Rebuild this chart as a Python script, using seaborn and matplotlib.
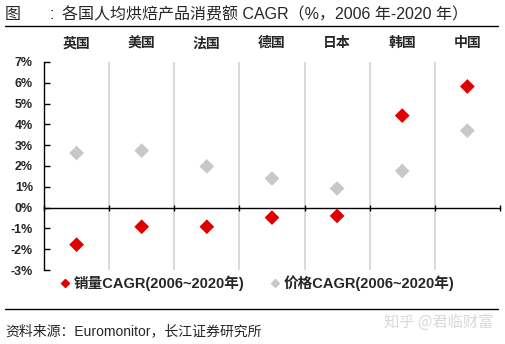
import matplotlib
matplotlib.use("Agg")
import matplotlib.pyplot as plt
import seaborn as sns
import pandas as pd
from matplotlib.lines import Line2D

countries = ["英国", "美国", "法国", "德国", "日本", "韩国", "中国"]
volume_cagr = [-1.78, -0.92, -0.92, -0.48, -0.40, 4.42, 5.82]
price_cagr = [2.62, 2.74, 1.98, 1.40, 0.92, 1.76, 3.70]
series_names = ["销量CAGR(2006~2020年)", "价格CAGR(2006~2020年)"]
yticks = [-3, -2, -1, 0, 1, 2, 3, 4, 5, 6, 7]

sns.set_theme(style="white")
plt.rcParams["font.family"] = ["Liberation Sans", "Noto Sans CJK SC", "DejaVu Sans"]
cjk = ["Noto Sans CJK SC", "DejaVu Sans"]
mixed = ["Liberation Sans", "Noto Sans CJK SC", "DejaVu Sans"]

df = pd.DataFrame({
    "country": countries * 2,
    "value": volume_cagr + price_cagr,
    "series": [series_names[0]] * len(countries) + [series_names[1]] * len(countries),
})

fig = plt.figure(figsize=(5.06, 3.44), dpi=100)
ax = fig.add_axes([0.087, 0.215, 0.901, 0.605])

red = "#e00000"
gray = "#c8c8c8"
palette = {series_names[0]: red, series_names[1]: gray}

for i in range(1, len(countries)):
    ax.axvline(i - 0.5, color="#d0d0d0", lw=1.1, zorder=0)

sns.stripplot(data=df, x="country", y="value", hue="series", order=countries,
              palette=palette, jitter=False, dodge=False, marker="D", size=7.5,
              linewidth=0, ax=ax, legend=False, zorder=3)

ax.set_xlim(-0.5, len(countries) - 0.5)
ax.set_ylim(-3, 7)
ax.set_yticks(yticks)
ax.set_yticklabels([f"{v}%" for v in yticks], fontweight="bold", fontsize=9)
ax.set_xlabel("")
ax.set_ylabel("")

for s in ["top", "right"]:
    ax.spines[s].set_visible(False)
ax.spines["left"].set_color("black")
ax.spines["left"].set_linewidth(1.0)
ax.spines["bottom"].set_position(("data", 0))
ax.spines["bottom"].set_color("black")
ax.spines["bottom"].set_linewidth(1.0)
ax.set_xticks([i - 0.5 for i in range(len(countries) + 1)])
ax.set_xticklabels([])
ax.tick_params(axis="x", direction="inout", length=5, width=1, color="black", bottom=True)
ax.tick_params(axis="y", direction="in", length=4, width=1, color="black", left=True, pad=8)

for i, c in enumerate(countries):
    ax.text(i, 1.09, c, transform=ax.get_xaxis_transform(), ha="center", va="center",
            fontsize=10, fontweight="bold", family=cjk)

# title
fig.text(0.01, 0.957, "图", fontsize=11.5, family=cjk, va="center")
fig.text(0.097, 0.957, ":", fontsize=11.5, family=mixed, va="center")
fig.text(0.122, 0.957, "各国人均烘焙产品消费额 CAGR（%，2006 年-2020 年）", fontsize=11.5,
         family=mixed, va="center")
fig.add_artist(Line2D([0.01, 0.985], [0.925, 0.925], color="black", lw=1.0))

# legend
handles = [Line2D([], [], marker="D", color=red, ls="", markersize=4),
           Line2D([], [], marker="D", color=gray, ls="", markersize=4)]
fig.legend(handles, series_names, loc="center left", bbox_to_anchor=(0.096, 0.177),
           ncol=2, frameon=False, handlelength=0.5, handletextpad=0.3, columnspacing=1.9,
           prop={"family": mixed, "weight": "bold", "size": 10.5})

fig.add_artist(Line2D([0.01, 0.985], [0.102, 0.102], color="black", lw=1.0))
fig.text(0.01, 0.038, "资料来源：Euromonitor，长江证券研究所", fontsize=10, family=mixed, va="center")
fig.text(0.975, 0.064, "知乎 @君临财富", fontsize=11, family=cjk, va="center", ha="right",
         color="#d8d8d8")

fig.savefig("out.png", dpi=100)
